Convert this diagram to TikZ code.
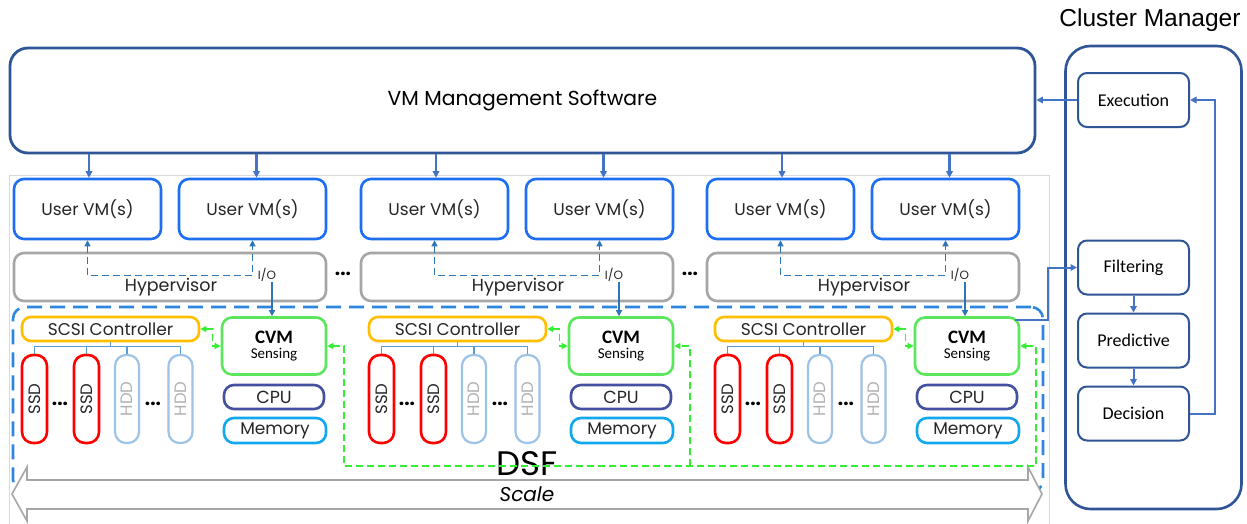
\documentclass[tikz,border=0pt]{standalone}
\usepackage{fontspec}
\setmainfont{Poppins}
\newfontfamily\calfont{Carlito}
\newfontfamily\arialfont{Liberation Sans}
\usetikzlibrary{arrows.meta,calc}
\definecolor{vmmblue}{HTML}{2F5597}
\definecolor{userblue}{HTML}{1E6EF0}
\definecolor{hypgray}{HTML}{A6A6A6}
\definecolor{scsiorange}{HTML}{FFBF00}
\definecolor{cvmgreen}{HTML}{5CE65C}
\definecolor{cpublue}{HTML}{44519E}
\definecolor{memblue}{HTML}{12A8EE}
\definecolor{ssdred}{HTML}{FF0000}
\definecolor{hddblue}{HTML}{9DC3E6}
\definecolor{hddtext}{HTML}{B0B0B0}
\definecolor{dsfblue}{HTML}{2E86DE}
\definecolor{gdashc}{HTML}{33EE33}
\definecolor{iodash}{HTML}{2E75B6}
\definecolor{arrowblue}{HTML}{4472C4}
\definecolor{busblue}{HTML}{5B9BD5}
\definecolor{framegray}{HTML}{D9D9D9}
\definecolor{txtc}{HTML}{262626}
\tikzset{
  tip/.style={-{Triangle[length=6.5pt,width=6.5pt]}},
  uvm/.style={draw=userblue, line width=2.6pt, rounded corners=10pt, minimum width=147pt, minimum height=60pt, inner sep=0pt, font=\fontsize{17}{19}\selectfont, text=txtc},
  hyp/.style={draw=hypgray, line width=2.6pt, rounded corners=10pt, minimum width=312pt, minimum height=48pt, inner sep=0pt},
  txt/.style={inner sep=0pt, text=txtc, font=\fontsize{17.5}{19}\selectfont},
  iotxt/.style={inner sep=0pt, text=txtc, font=\fontsize{12}{14}\selectfont},
  scsi/.style={draw=scsiorange, line width=2.6pt, rounded corners=9pt, minimum width=177pt, minimum height=24pt, inner sep=0pt, text=txtc, font=\fontsize{17}{19}\selectfont},
  cvm/.style={draw=cvmgreen, line width=2.6pt, rounded corners=10pt, minimum width=104pt, minimum height=57pt, inner sep=0pt, align=center, text=black},
  cpu/.style={draw=cpublue, line width=2.6pt, rounded corners=10pt, minimum width=100pt, minimum height=24pt, inner sep=0pt, text=txtc, font=\fontsize{17.5}{19}\selectfont},
  mem/.style={draw=memblue, line width=2.6pt, rounded corners=10pt, minimum width=102pt, minimum height=25pt, inner sep=0pt, text=txtc, font=\fontsize{17}{19}\selectfont},
  ssd/.style={draw=ssdred, line width=2.6pt, rounded corners=11pt, minimum width=25pt, minimum height=88pt, inner sep=0pt, text=txtc, font=\fontsize{16.5}{18}\selectfont},
  hdd/.style={draw=hddblue, line width=2.2pt, rounded corners=11pt, minimum width=24pt, minimum height=88pt, inner sep=0pt, text=hddtext, font=\fontsize{16.5}{18}\selectfont},
  dots/.style={inner sep=0pt, text=black, font=\bfseries\fontsize{19}{21}\selectfont},
  vmmbox/.style={draw=vmmblue, line width=2.8pt, rounded corners=18pt, minimum width=1025pt, minimum height=105pt, inner sep=0pt, text=black, font=\fontsize{20.3}{22}\selectfont},
  dsfbox/.style={draw=dsfblue, line width=2.6pt, rounded corners=12pt, dash pattern=on 15pt off 8pt, minimum width=1030pt, minimum height=185pt, inner sep=0pt},
  cmbig/.style={draw=vmmblue, line width=2.6pt, rounded corners=25pt, minimum width=176pt, minimum height=463pt, inner sep=0pt},
  cmbox/.style={draw=vmmblue, line width=2pt, rounded corners=9pt, minimum width=111pt, minimum height=54pt, inner sep=0pt, text=black, font=\calfont\fontsize{18}{20}\selectfont},
  vmarrow/.style={draw=arrowblue, line width=2.2pt, tip},
  cmarrow/.style={draw=arrowblue, line width=2pt, tip},
  ioarrow/.style={draw=iodash, line width=1.3pt, -{Triangle[length=6pt,width=6pt]}},
  iod/.style={draw=iodash, line width=1.3pt, dash pattern=on 7pt off 4pt, {Triangle[length=6pt,width=6pt]}-{Triangle[length=6pt,width=6pt]}},
  gd/.style={draw=gdashc, line width=1.3pt, dash pattern=on 7pt off 4pt},
  gtip/.style={-{Triangle[length=6pt,width=6pt]}},
  bus/.style={draw=busblue, line width=1.3pt},
  scalearrow/.style={draw=hypgray, line width=1.6pt, fill=white, line join=miter}
}
\begin{document}
\begin{tikzpicture}[x=1pt,y=-1pt]
\useasboundingbox (0,0) rectangle (1247,523);
\fill[white] (0,0) rectangle (1247,523);
% frame
\draw[framegray, line width=0.8pt] (9,175) rectangle (1049,540);
% VM management
\node[vmmbox] (vmm) at (522.5,100.5) {VM Management Software};
% DSF dashed region
\node[dsfbox] (dsf) at (528,399.5) {};
% scale arrow
\draw[scalearrow] (12,494) -- (27,467) -- (27,480) -- (1028,480) -- (1028,467) -- (1042,494) -- (1028,521) -- (1028,509) -- (27,509) -- (27,521) -- cycle;
\node[inner sep=0pt, text=black, font=\fontsize{34}{36}\selectfont] (dsft) at (527,464) {DSF};
\node[inner sep=0pt, text=black, font=\itshape\fontsize{20}{22}\selectfont] (scale) at (527,494) {Scale};
% modules
\foreach \i/\dx in {1/0,2/347,3/693}{
\begin{scope}[xshift=\dx pt]
  \node[uvm] (vmA\i) at (87.5,209) {User VM(s)};
  \node[uvm] (vmB\i) at (252.5,209) {User VM(s)};
  \node[hyp] (hyp\i) at (170,277) {};
  \node[txt] (hypt\i) at (171,287) {Hypervisor};
  \node[iotxt] (io\i) at (267,275) {I/O};
  \node[scsi] (scsi\i) at (110.5,329) {SCSI Controller};
  \node[cvm] (cvm\i) at (274,346) {{\calfont\bfseries\fontsize{19}{20}\selectfont CVM}\\[3pt]{\calfont\fontsize{15}{16}\selectfont Sensing}};
  \node[cpu] (cpu\i) at (274,397) {CPU};
  \node[mem] (mem\i) at (275,430.5) {Memory};
  \node[ssd] (ssdA\i) at (34.5,399) {\rotatebox{90}{SSD}};
  \node[ssd] (ssdB\i) at (86.5,399) {\rotatebox{90}{SSD}};
  \node[hdd] (hddA\i) at (127,399) {\rotatebox{90}{HDD}};
  \node[hdd] (hddB\i) at (180.5,399) {\rotatebox{90}{HDD}};
  \node[dots] (dA\i) at (60,404) {...};
  \node[dots] (dB\i) at (153,404) {...};
  \draw[iod] (vmA\i.south) -- ++(0,35) -| (vmB\i.south);
  \draw[ioarrow] ([xshift=5pt]io\i.south) -- ([xshift=5pt]io\i.south |- cvm\i.north);
  \draw[vmarrow] ([xshift=1.5pt]vmm.south -| vmA\i.north) -- ([xshift=1.5pt]vmA\i.north);
  \draw[vmarrow] ([xshift=4pt]vmm.south -| vmB\i.north) -- ([xshift=4pt]vmB\i.north);
  \draw[gd, {Triangle[length=6pt,width=6pt]}-{Triangle[length=6pt,width=6pt]}] (scsi\i.east) -- ++(12,0) |- (cvm\i.west);
  \draw[bus] (scsi\i.south) -- ++(0,5);
  \draw[bus] (ssdA\i.north) -- ++(0,-7) -| (hddB\i.north);
  \draw[bus] (ssdB\i.north) -- ++(0,-7);
  \draw[bus] (hddA\i.north) -- ++(0,-7);
\end{scope}
}
\node[dots] (e1) at (343,274) {...};
\node[dots] (e2) at (690,274) {...};
% green sensing bus
\coordinate (g1) at (344,466);
\coordinate (g2) at (690,466);
\coordinate (g3) at (1036,466);
\draw[gd, {Triangle[length=6pt,width=6pt]}-{Triangle[length=6pt,width=6pt]}] (cvm1.east) -| (g1) -- (g3) |- (cvm3.east);
\draw[gd, gtip] (g2) |- (cvm2.east);
% cluster manager
\node[inner sep=0pt, text=black, font=\arialfont\fontsize{24.5}{26}\selectfont] (cmt) at (1150,20) {Cluster Manager};
\node[cmbig] (cm) at (1153.5,277.5) {};
\node[cmbox] (exec) at (1133.5,100) {Execution};
\node[cmbox] (filt) at (1133.5,267.5) {Filtering};
\node[cmbox] (pred) at (1133.5,340.5) {Predictive};
\node[cmbox] (dec) at (1133.5,413.5) {Decision};
\draw[cmarrow] (exec.west) -- (exec.west -| vmm.east);
\draw[cmarrow] (filt) -- (pred);
\draw[cmarrow] (pred) -- (dec);
\draw[cmarrow] (dec.east) -- ++(25,0) |- (exec.east);
\draw[cmarrow] ([xshift=-5pt,yshift=-4pt]cvm3.north east) -- ++(33,0) |- (filt.west);
\end{tikzpicture}
\end{document}
